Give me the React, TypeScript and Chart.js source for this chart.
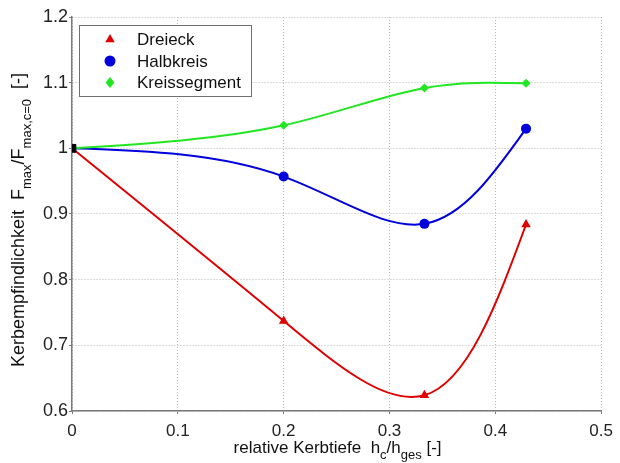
import React, { useEffect, useRef } from 'react';
import { Chart, registerables } from 'chart.js';

Chart.register(...registerables);

// ---- data ----
const xValues = [0, 0.2, 0.333, 0.429];
const dreieck = [1, 0.737, 0.624, 0.884];
const halbkreis = [1, 0.957, 0.885, 1.03];
const kreissegment = [1, 1.035, 1.092, 1.099];
const seriesNames = ['Dreieck', 'Halbkreis', 'Kreissegment'];
const originX = [0];
const originY = [1];
const xTickValues = [0, 0.1, 0.2, 0.3, 0.4, 0.5];
const yTickValues = [0.6, 0.7, 0.8, 0.9, 1, 1.1, 1.2];
const xTitleParts = [
  { t: 'relative Kerbtiefe  h', sub: false },
  { t: 'c', sub: true },
  { t: '/h', sub: false },
  { t: 'ges', sub: true },
  { t: ' [-]', sub: false },
];
const yTitleParts = [
  { t: 'Kerbempfindlichkeit  F', sub: false },
  { t: 'max', sub: true },
  { t: '/F', sub: false },
  { t: 'max,c=0', sub: true },
  { t: '  [-]', sub: false },
];

const FONT = 'Arial, "Liberation Sans", sans-serif';
const RED = '#e00000';
const BLUE = '#0000dd';
const GREEN = '#22e622';

function toPts(ys: number[]) {
  return xValues.map((x, i) => ({ x, y: ys[i] }));
}

// derivatives of a natural cubic spline v(t) at its knots
function naturalDerivs(t: number[], v: number[]): number[] {
  const n = t.length;
  const h: number[] = [];
  const f: number[] = [];
  for (let i = 0; i < n - 1; i++) {
    h.push(t[i + 1] - t[i]);
    f.push((v[i + 1] - v[i]) / h[i]);
  }
  const m = n - 2;
  const a: number[] = [], b: number[] = [], c: number[] = [], d: number[] = [];
  for (let k = 0; k < m; k++) {
    const i = k + 1;
    a.push(h[i - 1]);
    b.push(2 * (h[i - 1] + h[i]));
    c.push(h[i]);
    d.push(6 * (f[i] - f[i - 1]));
  }
  for (let k = 1; k < m; k++) {
    const w = a[k] / b[k - 1];
    b[k] -= w * c[k - 1];
    d[k] -= w * d[k - 1];
  }
  const inner: number[] = new Array(m).fill(0);
  for (let k = m - 1; k >= 0; k--) {
    inner[k] = (d[k] - (k < m - 1 ? c[k] * inner[k + 1] : 0)) / b[k];
  }
  const M = [0, ...inner, 0];
  const der: number[] = [];
  for (let i = 0; i < n - 1; i++) der.push(f[i] - (h[i] * (2 * M[i] + M[i + 1])) / 6);
  der.push(f[n - 2] + (h[n - 2] * (M[n - 2] + 2 * M[n - 1])) / 6);
  return der;
}

// Smooth interpolating spline curve (centripetal parametrisation) through the
// rendered point elements, applied as Bezier control points of Chart.js' line.
const splinePlugin = {
  id: 'smoothSpline',
  beforeDatasetDraw(chart: any, args: any) {
    const meta = chart.getDatasetMeta(args.index);
    const ds = chart.data.datasets[args.index];
    if (!ds.showLine || !meta.dataset) return;
    const pts = meta.data;
    const n = pts.length;
    if (n < 3) return;
    const xs = pts.map((p: any) => p.x);
    const ys = pts.map((p: any) => p.y);
    const t: number[] = [0];
    for (let i = 1; i < n; i++) t.push(t[i - 1] + Math.sqrt(Math.hypot(xs[i] - xs[i - 1], ys[i] - ys[i - 1])));
    const dx = naturalDerivs(t, xs);
    const dy = naturalDerivs(t, ys);
    for (let i = 0; i < n; i++) {
      const p = pts[i];
      const hp = i > 0 ? (t[i] - t[i - 1]) / 3 : 0;
      const hn = i < n - 1 ? (t[i + 1] - t[i]) / 3 : 0;
      p.cp1x = xs[i] - dx[i] * hp;
      p.cp1y = ys[i] - dy[i] * hp;
      p.cp2x = xs[i] + dx[i] * hn;
      p.cp2y = ys[i] + dy[i] * hn;
    }
    meta.dataset._pointsUpdated = true;
    meta.dataset._path = undefined;
  },
};

function drawMarker(ctx: CanvasRenderingContext2D, style: string, x: number, y: number, r: number, color: string) {
  ctx.save();
  ctx.fillStyle = color;
  ctx.beginPath();
  if (style === 'triangle') {
    for (let k = 0; k < 3; k++) {
      const ang = (k * 2 * Math.PI) / 3;
      const px = x + Math.sin(ang) * r;
      const py = y - Math.cos(ang) * r;
      if (k === 0) ctx.moveTo(px, py);
      else ctx.lineTo(px, py);
    }
    ctx.closePath();
  } else if (style === 'circle') {
    ctx.arc(x, y, r, 0, Math.PI * 2);
  } else {
    ctx.moveTo(x, y - r);
    ctx.lineTo(x + r * 0.8, y);
    ctx.lineTo(x, y + r);
    ctx.lineTo(x - r * 0.8, y);
    ctx.closePath();
  }
  ctx.fill();
  ctx.restore();
}

const legendPlugin = {
  id: 'boxLegend',
  afterDraw(chart: any) {
    const ctx: CanvasRenderingContext2D = chart.ctx;
    const ca = chart.chartArea;
    const bx = ca.left + 7;
    const by = ca.top + 8;
    const bw = 172;
    const bh = 71;
    ctx.save();
    ctx.fillStyle = '#ffffff';
    ctx.fillRect(bx, by, bw, bh);
    ctx.strokeStyle = '#707070';
    ctx.lineWidth = 1;
    ctx.strokeRect(bx + 0.5, by + 0.5, bw, bh);
    const styles = ['triangle', 'circle', 'diamond'];
    const colors = [RED, BLUE, GREEN];
    ctx.font = '17px ' + FONT;
    ctx.textBaseline = 'middle';
    seriesNames.forEach((name, i) => {
      const cy = by + 14.5 + i * 21.5;
      drawMarker(ctx, styles[i], bx + 31, cy, 5.5, colors[i]);
      ctx.fillStyle = '#111';
      ctx.fillText(name, bx + 58, cy + 1);
    });
    ctx.restore();
  },
};

function drawParts(ctx: CanvasRenderingContext2D, parts: { t: string; sub: boolean }[], main: number, subSize: number, subOff: number) {
  let total = 0;
  parts.forEach((p) => {
    ctx.font = (p.sub ? subSize : main) + 'px ' + FONT;
    total += ctx.measureText(p.t).width;
  });
  let x = -total / 2;
  parts.forEach((p) => {
    ctx.font = (p.sub ? subSize : main) + 'px ' + FONT;
    ctx.fillText(p.t, x, p.sub ? subOff : 0);
    x += ctx.measureText(p.t).width;
  });
}

const titlePlugin = {
  id: 'axisTitles',
  afterDraw(chart: any) {
    const ctx: CanvasRenderingContext2D = chart.ctx;
    const ca = chart.chartArea;
    ctx.save();
    ctx.fillStyle = '#111';
    ctx.textBaseline = 'alphabetic';
    ctx.textAlign = 'left';
    ctx.save();
    ctx.translate((ca.left + ca.right) / 2 + 1, 453);
    drawParts(ctx, xTitleParts, 17, 13, 6);
    ctx.restore();
    ctx.save();
    ctx.translate(23.5, 220);
    ctx.rotate(-Math.PI / 2);
    drawParts(ctx, yTitleParts, 18, 13, 7);
    ctx.restore();
    ctx.restore();
  },
};

export default function App() {
  const ref = useRef<HTMLCanvasElement | null>(null);
  useEffect(() => {
    document.body.style.margin = '0';
    const canvas = ref.current;
    if (!canvas) return;
    const lineCommon = {
      showLine: true,
      borderWidth: 2,
      tension: 0.4,
      pointBorderWidth: 0,
    };
    const chart = new Chart(canvas, {
      type: 'scatter',
      data: {
        datasets: [
          {
            label: 'origin',
            data: originX.map((x, i) => ({ x, y: originY[i] })),
            showLine: false,
            pointStyle: 'rect',
            pointRadius: 5.5,
            backgroundColor: '#000',
            borderColor: '#000',
            order: 0,
          },
          {
            ...lineCommon,
            label: seriesNames[2],
            data: toPts(kreissegment),
            borderColor: GREEN,
            backgroundColor: GREEN,
            pointStyle: 'rectRot',
            pointRadius: [0, 4.5, 4.5, 4.5],
            order: 1,
          },
          {
            ...lineCommon,
            label: seriesNames[1],
            data: toPts(halbkreis),
            borderColor: BLUE,
            backgroundColor: BLUE,
            pointStyle: 'circle',
            pointRadius: [0, 5, 5, 5],
            order: 2,
          },
          {
            ...lineCommon,
            label: seriesNames[0],
            data: toPts(dreieck),
            borderColor: RED,
            backgroundColor: RED,
            pointStyle: 'triangle',
            pointRadius: [0, 5.5, 5.5, 5.5],
            order: 3,
          },
        ],
      },
      options: {
        animation: false,
        responsive: false,
        maintainAspectRatio: false,
        layout: { padding: { top: 17, right: 16, bottom: 0, left: 0 } },
        plugins: { legend: { display: false }, tooltip: { enabled: false } },
        scales: {
          x: {
            type: 'linear',
            min: 0,
            max: 0.5,
            afterFit: (s: any) => {
              s.height = 52;
            },
            afterBuildTicks: (s: any) => {
              s.ticks = xTickValues.map((v) => ({ value: v }));
            },
            ticks: {
              padding: 7,
              color: '#222',
              font: { family: FONT, size: 17 },
              maxRotation: 0,
              callback: (v: any) => String(Math.round(Number(v) * 10) / 10),
            },
            grid: {
              color: '#b8b8b8',
              lineWidth: 1,
              drawTicks: true,
              tickLength: 3,
              tickColor: '#777',
              tickBorderDash: [],
            },
            border: { display: true, color: '#7a7a7a', width: 1.5, dash: [1, 2] },
          },
          y: {
            type: 'linear',
            min: 0.6,
            max: 1.2,
            afterFit: (s: any) => {
              s.width = 72;
            },
            afterBuildTicks: (s: any) => {
              s.ticks = yTickValues.map((v) => ({ value: v }));
            },
            ticks: {
              padding: 1,
              color: '#222',
              font: { family: FONT, size: 18 },
              callback: (v: any) => String(Math.round(Number(v) * 10) / 10),
            },
            grid: {
              color: '#b8b8b8',
              lineWidth: 1,
              drawTicks: true,
              tickLength: 3,
              tickColor: '#777',
              tickBorderDash: [],
            },
            border: { display: true, color: '#7a7a7a', width: 1.5, dash: [1, 2] },
          },
        },
      },
      plugins: [splinePlugin, legendPlugin, titlePlugin],
    } as any);
    return () => chart.destroy();
  }, []);
  return (
    <div style={{ width: 620, height: 463, background: '#fff' }}>
      <canvas ref={ref} width={620} height={463} style={{ display: 'block' }} />
    </div>
  );
}
